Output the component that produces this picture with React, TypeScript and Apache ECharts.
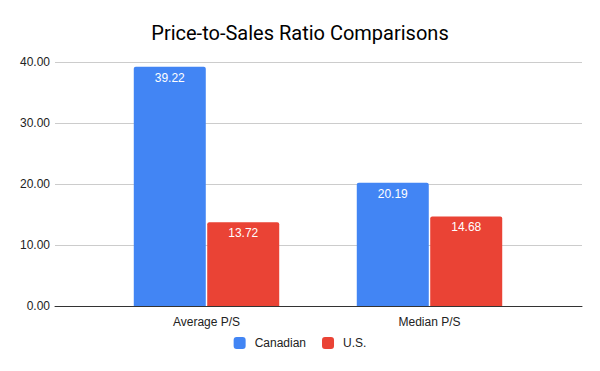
import React, { useEffect, useRef } from "react";
import * as echarts from "echarts";

const categories = ["Average P/S", "Median P/S"];
const canadian = [39.22, 20.19];
const us = [13.72, 14.68];
const seriesNames = ["Canadian", "U.S."];

export default function App() {
  const ref = useRef<HTMLDivElement>(null);
  useEffect(() => {
    if (!ref.current) return;
    const chart = echarts.init(ref.current, null, { renderer: "svg" });
    const font = "Arial, 'Liberation Sans', sans-serif";
    const labelCfg = {
      show: true,
      position: "insideTop" as const,
      distance: 5,
      color: "#ffffff",
      fontSize: 12,
      fontFamily: font,
      formatter: (p: any) => Number(p.value).toFixed(2),
    };
    chart.setOption({
      animation: false,
      backgroundColor: "#ffffff",
      title: {
        text: "Price-to-Sales Ratio Comparisons",
        left: "center",
        top: 18,
        textStyle: { fontSize: 20, fontWeight: "normal", color: "#000", fontFamily: "Roboto, Arial, sans-serif" },
      },
      legend: {
        bottom: 17,
        left: "center",
        itemWidth: 12,
        itemHeight: 12,
        itemGap: 16,
        icon: "roundRect",
        textStyle: { fontSize: 12, color: "#222", fontFamily: font, padding: [0, 0, 0, 4] },
        data: seriesNames,
      },
      grid: [
        { left: 55, right: 18, top: 62, bottom: 65 },
        { left: 95, right: 59, top: 62, bottom: 65 },
      ],
      xAxis: [
        {
          gridIndex: 0,
          type: "value",
          min: 0,
          max: 1,
          axisLine: { show: true, onZero: false, lineStyle: { color: "#333", width: 1 } },
          axisTick: { show: false },
          axisLabel: { show: false },
          splitLine: { show: false },
        },
        {
          gridIndex: 1,
          type: "category",
          data: categories,
          axisLine: { show: false },
          axisTick: { show: false },
          axisLabel: { color: "#222", fontSize: 12, margin: 10, fontFamily: font },
        },
      ],
      yAxis: [
        {
          gridIndex: 0,
          type: "value",
          min: 0,
          max: 40,
          interval: 10,
          axisLine: { show: false },
          axisTick: { show: false },
          axisLabel: {
            color: "#222",
            fontSize: 12,
            margin: 5,
            fontFamily: font,
            formatter: (v: number) => v.toFixed(2),
          },
          splitLine: { lineStyle: { color: "#cccccc", width: 1 } },
        },
        {
          gridIndex: 1,
          type: "value",
          min: 0,
          max: 40,
          interval: 10,
          show: false,
          splitLine: { show: false },
        },
      ],
      series: [
        {
          name: seriesNames[0],
          type: "bar",
          xAxisIndex: 1,
          yAxisIndex: 1,
          data: canadian,
          barWidth: 72,
          barGap: "2%",
          itemStyle: { color: "#4285F4", borderRadius: [2, 2, 0, 0] },
          label: labelCfg,
        },
        {
          name: seriesNames[1],
          type: "bar",
          xAxisIndex: 1,
          yAxisIndex: 1,
          data: us,
          barWidth: 72,
          barGap: "2%",
          itemStyle: { color: "#EA4335", borderRadius: [2, 2, 0, 0] },
          label: labelCfg,
        },
      ],
    });
    return () => chart.dispose();
  }, []);
  return <div ref={ref} style={{ position: "absolute", left: 0, top: 0, width: 600, height: 371 }} />;
}
